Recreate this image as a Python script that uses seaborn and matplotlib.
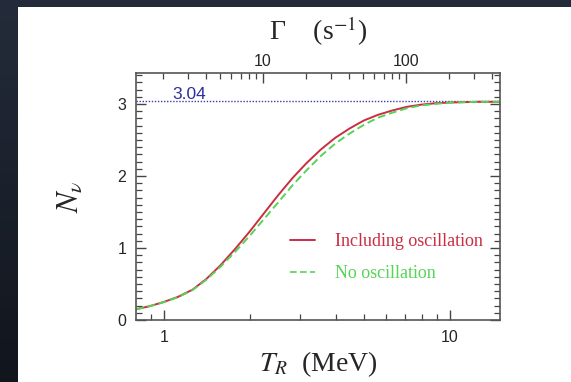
import numpy as np
import pandas as pd
import seaborn as sns
import matplotlib
matplotlib.use("Agg")
import matplotlib.pyplot as plt
from matplotlib.patches import Rectangle
from matplotlib.lines import Line2D
from matplotlib.ticker import FixedLocator, NullFormatter, MultipleLocator

# Reheating temperature (MeV) and effective number of neutrino species
T_R = [0.8, 0.89, 1.0, 1.12, 1.26, 1.41, 1.58, 1.78, 2.0, 2.24, 2.51, 2.82,
       3.16, 3.55, 3.98, 4.47, 5.01, 5.62, 6.31, 7.08, 7.94, 8.91, 10.0,
       12.6, 15.0]
N_osc = [0.15, 0.19, 0.25, 0.32, 0.42, 0.57, 0.76, 0.99, 1.23, 1.48, 1.73,
         1.97, 2.18, 2.37, 2.53, 2.66, 2.77, 2.85, 2.91, 2.96, 2.99, 3.01,
         3.02, 3.03, 3.03]
N_noosc = [0.15, 0.19, 0.247, 0.315, 0.415, 0.56, 0.74, 0.95, 1.17, 1.40,
           1.63, 1.87, 2.08, 2.28, 2.45, 2.59, 2.71, 2.81, 2.88, 2.94, 2.98,
           3.00, 3.02, 3.03, 3.03]
labels = ["Including oscillation", "No oscillation"]
N_std = 3.04
# decay rate Gamma (s^-1) = GAMMA_COEF * T_R^2
GAMMA_COEF = 2.03
gamma_ticks = [10, 100]

df = pd.concat([
    pd.DataFrame({"T": T_R, "N": N_osc, "case": labels[0]}),
    pd.DataFrame({"T": T_R, "N": N_noosc, "case": labels[1]}),
])

sns.set_theme(style="ticks")
plt.rcParams["font.family"] = ["Liberation Sans", "DejaVu Sans"]
plt.rcParams["mathtext.fontset"] = "stix"
serif = ["Liberation Serif", "DejaVu Serif"]

W, H = 571, 382
fig = plt.figure(figsize=(W / 100, H / 100), dpi=100)

# dark backdrop with a white panel
bg = fig.add_axes([0, 0, 1, 1], zorder=-10)
grad = np.linspace(0, 1, 256)[:, None]
bg.imshow(grad, aspect="auto", extent=[0, 1, 0, 1],
          cmap=matplotlib.colors.LinearSegmentedColormap.from_list(
              "bgc", ["#242c3b", "#11151c"]))
bg.set_axis_off()
fig.add_artist(Rectangle((18 / W, 0), 1 - 18 / W, (H - 7) / H,
                         transform=fig.transFigure, facecolor="white",
                         edgecolor="none", zorder=-5))

ax = fig.add_axes([136 / W, (H - 320) / H, (500 - 136) / W, (320 - 73) / H])
ax.set_facecolor("white")

red = "#cb2d42"
green = "#55d455"
sns.lineplot(data=df, x="T", y="N", hue="case", style="case",
             palette=[red, green], dashes=[(None, None), (4, 2)],
             ax=ax, linewidth=1.4, legend=False)

ax.axhline(N_std, color="#3b3ba8", linestyle=(0, (1, 1.2)), linewidth=1.0,
           zorder=1)
ax.text(1.07, N_std + 0.03, f"{N_std:.2f}", color="#2e2e9e", fontsize=12.5,
        ha="left", va="baseline")

ax.set_xscale("log")
ax.set_xlim(0.8, 15)
ax.set_ylim(0, 3.43)

ax.xaxis.set_major_locator(FixedLocator([1, 10]))
ax.xaxis.set_minor_locator(FixedLocator([0.9, 2, 3, 4, 5, 6, 7, 8, 9]))
ax.xaxis.set_minor_formatter(NullFormatter())
ax.set_xticklabels(["1", "10"])
ax.yaxis.set_major_locator(MultipleLocator(1))
ax.yaxis.set_minor_locator(MultipleLocator(0.1))

ax.tick_params(axis="both", which="major", direction="in", length=7,
               width=1.0, color="#444444", labelsize=11.5, pad=7)
ax.tick_params(axis="both", which="minor", direction="in", length=4,
               width=0.9, color="#444444")
ax.tick_params(axis="y", which="both", right=True)
ax.tick_params(axis="x", which="both", top=False)

for s in ax.spines.values():
    s.set_visible(True)
    s.set_color("#555555")
    s.set_linewidth(1.2)

secax = ax.secondary_xaxis(
    "top",
    functions=(lambda t: GAMMA_COEF * np.asarray(t) ** 2,
               lambda g: np.sqrt(np.clip(np.asarray(g), 1e-12, None) / GAMMA_COEF)))
secax.set_xscale("log")
secax.xaxis.set_major_locator(FixedLocator(gamma_ticks))
secax.xaxis.set_minor_locator(FixedLocator(
    [2, 3, 4, 5, 6, 7, 8, 9, 20, 30, 40, 50, 60, 70, 80, 90, 200, 300, 400]))
secax.xaxis.set_minor_formatter(NullFormatter())
secax.set_xticklabels([str(g) for g in gamma_ticks])
secax.tick_params(which="major", direction="in", length=7, width=1.0,
                  color="#444444", labelsize=11.5, pad=3)
secax.tick_params(which="minor", direction="in", length=4, width=0.9,
                  color="#444444")
secax.spines["top"].set_visible(False)
secax.set_xlabel("Γ    (s$^{-1}$)", fontsize=20, labelpad=10, family=serif)

ax.set_xlabel(r"$T_R$  (MeV)", fontsize=20, family=serif)
ax.xaxis.set_label_coords(0.5, -0.12)
ax.set_ylabel(r"$N_\nu$", fontsize=22, rotation=90, family=serif)
ax.yaxis.set_label_coords(-0.14, 0.5)

# legend drawn from the line handles
handles = [Line2D([], [], color=red, linewidth=1.4),
           Line2D([], [], color=green, linewidth=1.2, dashes=(4, 2))]
leg = ax.legend(handles, labels, loc="upper left",
                bbox_to_anchor=(0.423, 0.352), frameon=False, borderpad=0,
                borderaxespad=0, handlelength=1.4, handletextpad=1.1,
                labelspacing=0.85, prop={"family": serif, "size": 13})
for txt, c in zip(leg.get_texts(), [red, green]):
    txt.set_color(c)

fig.savefig("out.png", dpi=100)
